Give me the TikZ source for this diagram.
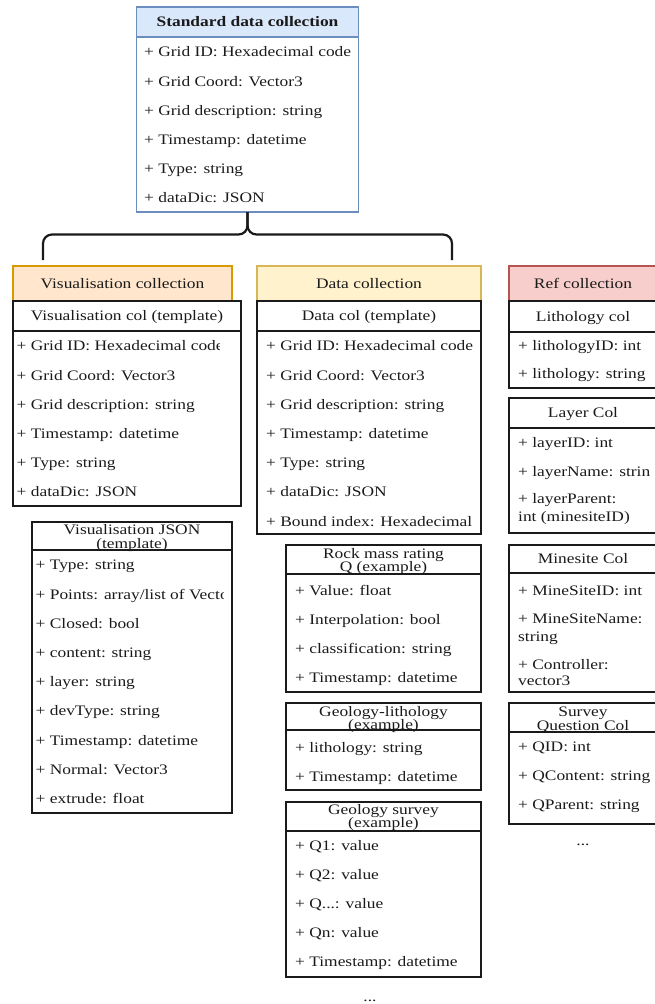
\documentclass[tikz,border=0pt]{standalone}
\usepackage{fontspec}
\setmainfont{Liberation Serif}[FakeStretch=1.2]
\newcommand\fsz{\fontsize{14.5}{17.4}\selectfont}
% a rectangular cell given by its corners: [style]{x1}{y1}{x2}{y2}{name}
\newcommand\cell[6][]{%
  \node[frame,#1,minimum width={#4pt-#2pt},minimum height={#5pt-#3pt}] (#6) at (#2,#3) {};}
\definecolor{stdfill}{HTML}{DAE8FC}\definecolor{stdline}{HTML}{6C8EBF}
\definecolor{visfill}{HTML}{FFE6CC}\definecolor{visline}{HTML}{D79B00}
\definecolor{datfill}{HTML}{FFF2CC}\definecolor{datline}{HTML}{D6B656}
\definecolor{reffill}{HTML}{F8CECC}\definecolor{refline}{HTML}{B85450}
\definecolor{ink}{HTML}{1A1A1A}
\begin{document}
\begin{tikzpicture}[x=1pt,y=-1pt,
  frame/.style={draw=ink,line width=1.1pt,anchor=north west,inner sep=0pt,outer sep=0pt},
  stdbox/.style={draw=stdline},
  stdhead/.style={draw=stdline,fill=stdfill},
  vishead/.style={draw=visline,fill=visfill},
  dathead/.style={draw=datline,fill=datfill},
  refhead/.style={draw=refline,fill=reffill},
  field/.style={font=\fsz,text=ink,anchor=west,inner sep=0pt,text height=9.6pt,text depth=0pt},
  ttl/.style={font=\fsz,text=ink,inner sep=0pt,text height=9.6pt,text depth=0pt},
  brace/.style={draw=ink,line width=2.2pt,rounded corners=9pt}]
\useasboundingbox (0,0) rectangle (655,1004);

% standard data collection
\cell[stdhead]{136.5}{7}{358.5}{37}{std-h}
\cell[stdbox]{136.5}{37}{358.5}{212}{std-b}
\node[ttl,font=\fsz\bfseries] (std-t) at (std-h.center) {Standard data collection};
\foreach \t [count=\i from 0] in {{+ Grid ID: Hexadecimal code},{+ Grid Coord: Vector3},
  {+ Grid description: string},{+ Timestamp: datetime},{+ Type: string},{+ dataDic: JSON}}
  \node[field] (std-r\i) at (144,52+29.2*\i) {\t};

% brace splitting into the collections
\coordinate (bl) at (43,260);
\coordinate (br) at (452,260);
\draw[brace] (std-b.south) -- (std-b.south |- 0,234.5) -| (bl);
\draw[brace] (std-b.south) -- (std-b.south |- 0,234.5) -| (br);

% visualisation collection
\cell[vishead]{13}{266}{232}{301}{vis-h}
\node[ttl] (vis-t) at (vis-h.center) {Visualisation collection};
\cell{13}{301}{241}{331}{vcol-h}
\node[ttl] (vcol-t) at (vcol-h.center) {Visualisation col (template)};
\cell{13}{331}{241}{506}{vcol-b}
\begin{scope}
  \clip (vcol-b.north west) rectangle (219,506);
  \foreach \t [count=\i from 0] in {{+ Grid ID: Hexadecimal code},{+ Grid Coord: Vector3},
    {+ Grid description: string},{+ Timestamp: datetime},{+ Type: string},{+ dataDic: JSON}}
    \node[field] (vcol-r\i) at (16.5,346+29.2*\i) {\t};
\end{scope}

\cell{32}{522}{232}{550}{vj-h}
\node[ttl] (vj-t1) at (132,530) {Visualisation JSON};
\node[ttl] (vj-t2) at (132,543.5) {(template)};
\cell{32}{550}{232}{813}{vj-b}
\begin{scope}
  \clip (vj-b.north west) rectangle (223,813);
  \foreach \t [count=\i from 0] in {{+ Type: string},{+ Points: array/list of Vector3},
    {+ Closed: bool},{+ content: string},{+ layer: string},{+ devType: string},
    {+ Timestamp: datetime},{+ Normal: Vector3},{+ extrude: float}}
    \node[field] (vj-r\i) at (35.5,565+29.2*\i) {\t};
\end{scope}

% data collection
\cell[dathead]{257}{266}{481}{301}{dat-h}
\node[ttl] (dat-t) at (dat-h.center) {Data collection};
\cell{257}{301}{481}{331}{dcol-h}
\node[ttl] (dcol-t) at (dcol-h.center) {Data col (template)};
\cell{257}{331}{481}{534}{dcol-b}
\foreach \t [count=\i from 0] in {{+ Grid ID: Hexadecimal code},{+ Grid Coord: Vector3},
  {+ Grid description: string},{+ Timestamp: datetime},{+ Type: string},{+ dataDic: JSON},
  {+ Bound index: Hexadecimal}}
  \node[field] (dcol-r\i) at (266,346+29.2*\i) {\t};

\cell{286}{545}{481}{574}{rmr-h}
\node[ttl] (rmr-t1) at (383.5,554) {Rock mass rating};
\node[ttl] (rmr-t2) at (383.5,567) {Q (example)};
\cell{286}{574}{481}{692}{rmr-b}
\foreach \t [count=\i from 0] in {{+ Value: float},{+ Interpolation: bool},
  {+ classification: string},{+ Timestamp: datetime}}
  \node[field] (rmr-r\i) at (295,591+29*\i) {\t};

\cell{286}{703}{481}{730}{gl-h}
\node[ttl] (gl-t1) at (383.5,712) {Geology-lithology};
\node[ttl] (gl-t2) at (383.5,725) {(example)};
\cell{286}{730}{481}{790}{gl-b}
\node[field] (gl-r0) at (295,748) {+ lithology: string};
\node[field] (gl-r1) at (295,777) {+ Timestamp: datetime};

\cell{286}{802}{481}{831}{gs-h}
\node[ttl] (gs-t1) at (383.5,810) {Geology survey};
\node[ttl] (gs-t2) at (383.5,823) {(example)};
\cell{286}{831}{481}{977}{gs-b}
\node[field] (gs-r0) at (295,846) {+ Q1: value};
\node[field] (gs-r1) at (295,875) {+ Q2: value};
\node[field] (gs-r2) at (295,904) {+ Q...: value};
\node[field] (gs-r3) at (295,933) {+ Qn: value};
\node[field] (gs-r4) at (295,962) {+ Timestamp: datetime};
\node[ttl] (dat-more) at (370,997) {...};

% reference collection
\cell[refhead]{509}{266}{657}{301}{ref-h}
\node[ttl] (ref-t) at (ref-h.center) {Ref collection};
\cell{509}{301}{657}{332}{lit-h}
\node[ttl] (lit-t) at (lit-h.center) {Lithology col};
\cell{509}{332}{657}{388}{lit-b}
\node[field] (lit-r0) at (518,346) {+ lithologyID: int};
\node[field] (lit-r1) at (518,374) {+ lithology: string};

\cell{509}{398}{657}{428}{lay-h}
\node[ttl] (lay-t) at (lay-h.center) {Layer Col};
\cell{509}{428}{657}{533}{lay-b}
\begin{scope}
  \clip (lay-b.north west) rectangle (650,533);
  \node[field] (lay-r0) at (518,443) {+ layerID: int};
  \node[field] (lay-r1) at (518,472) {+ layerName: string};
  \node[field] (lay-r2a) at (518,499) {+ layerParent:};
  \node[field] (lay-r2b) at (518,517) {int (minesiteID)};
\end{scope}

\cell{509}{545}{657}{573}{ms-h}
\node[ttl] (ms-t) at (ms-h.center) {Minesite Col};
\cell{509}{573}{657}{692}{ms-b}
\node[field] (ms-r0) at (518,591) {+ MineSiteID: int};
\node[field] (ms-r1a) at (518,619) {+ MineSiteName:};
\node[field] (ms-r1b) at (518,637) {string};
\node[field] (ms-r2a) at (518,665) {+ Controller:};
\node[field] (ms-r2b) at (518,681) {vector3};

\cell{509}{703}{657}{732}{sq-h}
\node[ttl] (sq-t1) at (583,712) {Survey};
\node[ttl] (sq-t2) at (583,726) {Question Col};
\cell{509}{732}{657}{824}{sq-b}
\node[field] (sq-r0) at (518,747) {+ QID: int};
\node[field] (sq-r1) at (518,776) {+ QContent: string};
\node[field] (sq-r2) at (518,805) {+ QParent: string};
\node[ttl] (ref-more) at (583,841) {...};
\end{tikzpicture}
\end{document}
